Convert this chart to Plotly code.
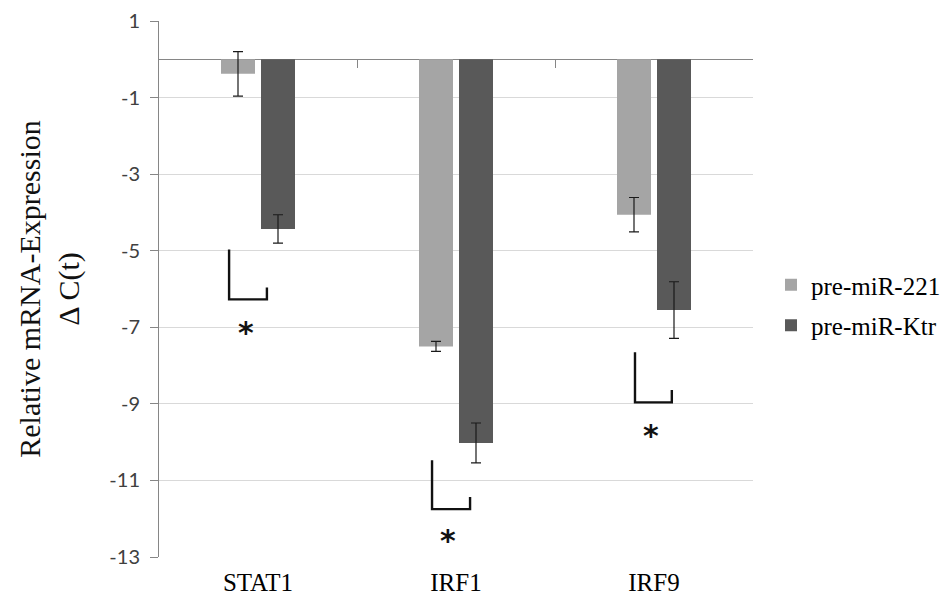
import plotly.graph_objects as go

# ---- data ----
categories = ["STAT1", "IRF1", "IRF9"]
series_names = ["pre-miR-221", "pre-miR-Ktr"]
values_221 = [-0.38, -7.50, -4.06]
errors_221 = [0.58, 0.13, 0.45]
values_ktr = [-4.43, -10.02, -6.55]
errors_ktr = [0.37, 0.52, 0.74]
y_ticks = [1, -1, -3, -5, -7, -9, -11, -13]

# significance brackets (offsets from category centre, values on y scale)
bracket_left = [-0.146, -0.121, -0.096]
bracket_right = [0.045, 0.071, 0.090]
bracket_top = [-4.97, -10.47, -7.65]
bracket_bottom = [-6.27, -11.75, -8.96]
bracket_tick_top = [-5.96, -11.43, -8.64]
star_offset = [-0.06, -0.04, -0.015]
star_y = [-7.05, -12.5, -9.74]
star_text = ["*", "*", "*"]

colors = ["#a5a5a5", "#595959"]
serif = "Liberation Serif, Times New Roman, serif"
xpos = list(range(len(categories)))

fig = go.Figure()
for name, vals, errs, col in [
    (series_names[0], values_221, errors_221, colors[0]),
    (series_names[1], values_ktr, errors_ktr, colors[1]),
]:
    fig.add_trace(go.Bar(
        x=xpos, y=vals, name=name, legendgroup=name,
        marker=dict(color=col, line=dict(width=0)),
        error_y=dict(type="data", array=errs, visible=True, color="#1a1a1a",
                     thickness=1.2, width=5),
    ))

# brackets
bx, by = [], []
for i, c in enumerate(xpos):
    bx += [c + bracket_left[i], c + bracket_left[i], c + bracket_right[i], c + bracket_right[i], None]
    by += [bracket_top[i], bracket_bottom[i], bracket_bottom[i], bracket_tick_top[i], None]
fig.add_trace(go.Scatter(x=bx, y=by, mode="lines", line=dict(color="#111111", width=2.4),
                         showlegend=False, hoverinfo="skip"))

for c, o, sy, st in zip(xpos, star_offset, star_y, star_text):
    fig.add_annotation(x=c + o, y=sy, xref="x", yref="y", text=st, showarrow=False,
                       xanchor="center", yanchor="middle", yshift=-3,
                       font=dict(family="DejaVu Sans", size=30, color="#111111", weight="bold"))

y0_frac = (0 - y_ticks[-1]) / (y_ticks[0] - y_ticks[-1])

fig.update_layout(
    width=946, height=597,
    margin=dict(l=159, r=193, t=21, b=40),
    paper_bgcolor="white", plot_bgcolor="white",
    barmode="group", bargap=0.596, bargroupgap=0.15,
    showlegend=True,
    legend=dict(xref="container", yref="container", x=0.815, xanchor="left",
                y=1 - 305 / 597, yanchor="middle",
                font=dict(family=serif, size=25, color="black"),
                bgcolor="rgba(0,0,0,0)", traceorder="grouped", tracegroupgap=5,
                itemwidth=30),
    xaxis=dict(range=[-0.5, 2.5], tickvals=xpos, ticktext=categories,
               showgrid=False, zeroline=False, showline=False, ticks="",
               tickfont=dict(family=serif, size=25, color="black"),
               ticklabelstandoff=8, automargin=False),
    xaxis2=dict(overlaying="x", anchor="free", position=y0_frac, side="bottom",
                range=[-0.5, 2.5], tickvals=[0.5, 1.5],
                ticks="outside", ticklen=8, tickcolor="#868686", tickwidth=1,
                showgrid=False, zeroline=False, showline=False, showticklabels=False,
                automargin=False),
    yaxis=dict(range=[y_ticks[-1], y_ticks[0]], tickvals=y_ticks,
               ticktext=[str(v) for v in y_ticks],
               showgrid=True, gridcolor="#d9d9d9", gridwidth=1,
               showline=True, linecolor="#868686", linewidth=1,
               ticks="outside", ticklen=8, tickcolor="#868686",
               zeroline=True, zerolinecolor="#868686", zerolinewidth=1,
               tickfont=dict(family="Lato, Liberation Sans, sans-serif", size=20, color="#404040"),
               ticklabelstandoff=6, automargin=False,
               title=dict(text="Relative mRNA-Expression<br>Δ C(t)",
                          font=dict(family=serif, size=30, color="#111111"),
                          standoff=20)),
)
# invisible trace to activate xaxis2
fig.add_trace(go.Scatter(x=[0], y=[0], xaxis="x2", mode="markers",
                         marker=dict(opacity=0), showlegend=False, hoverinfo="skip"))

fig.write_html("out.html")
